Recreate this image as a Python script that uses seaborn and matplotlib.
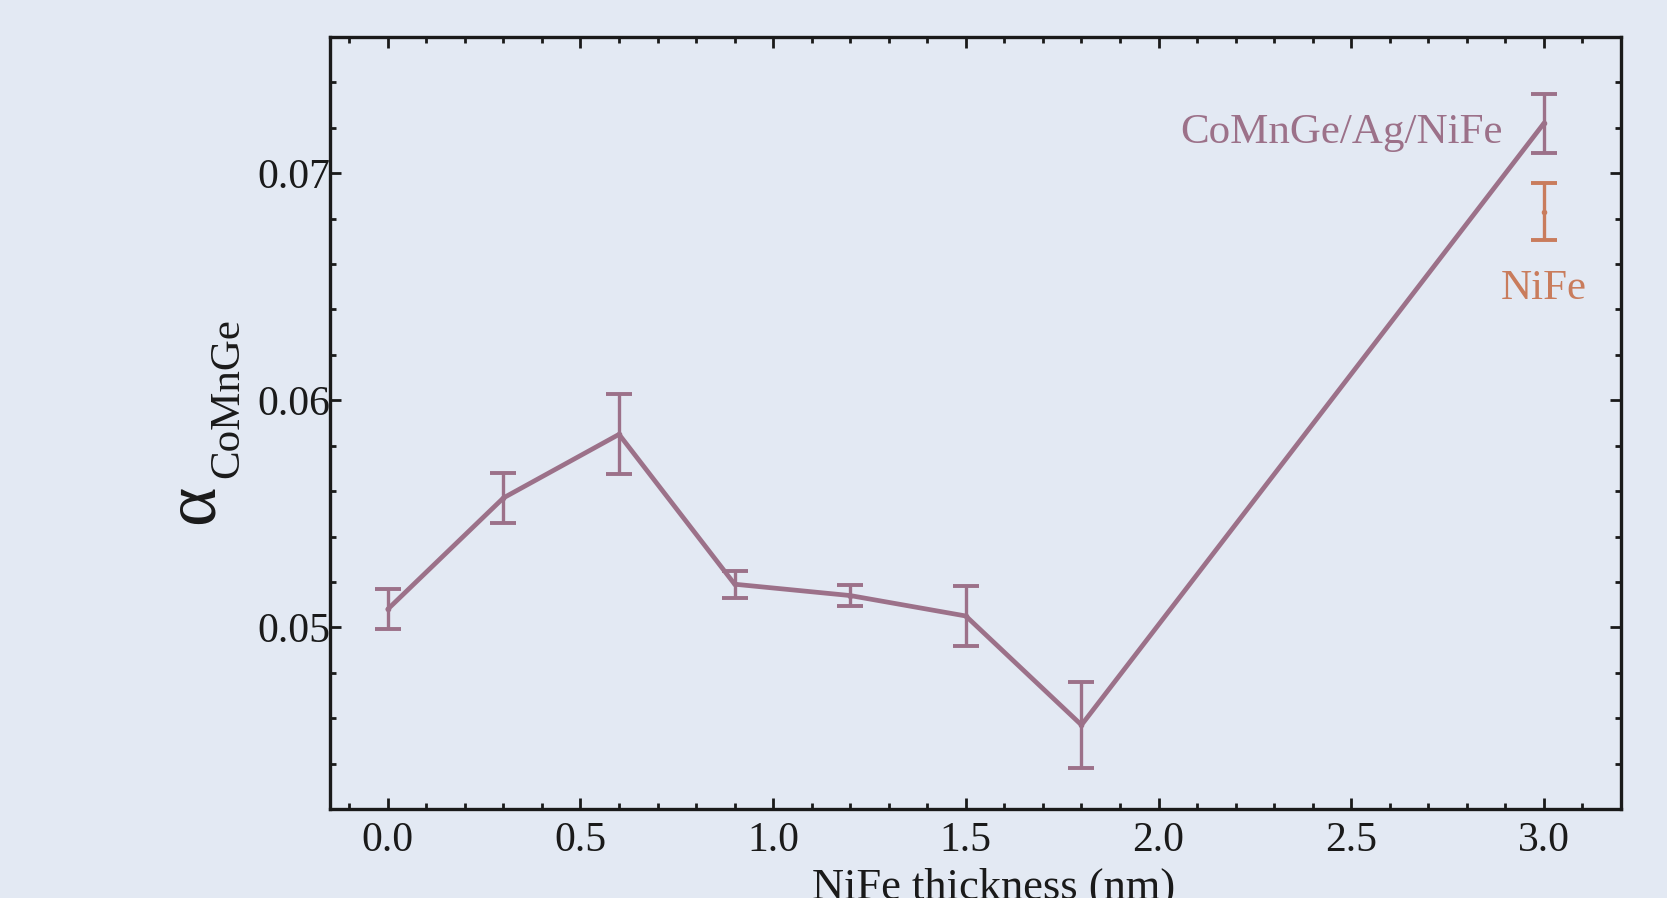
import matplotlib
matplotlib.use("Agg")
import matplotlib.pyplot as plt
import seaborn as sns
import numpy as np
import pandas as pd
from matplotlib.ticker import MultipleLocator

# data
thickness = [0.0, 0.3, 0.6, 0.9, 1.2, 1.5, 1.8, 3.0]
alpha_vals = [0.0508, 0.0557, 0.0585, 0.0519, 0.0514, 0.0505, 0.0457, 0.0722]
alpha_err = [0.00087, 0.0011, 0.00176, 0.0006, 0.00045, 0.0013, 0.0019, 0.0013]
nife_x = [3.0]
nife_val = [0.0683]
nife_err = [0.00125]

purple = "#9c7189"
orange = "#c97c5c"
bg = "#e3e9f3"
ink = "#1a1a1a"

sns.set_theme(style="ticks")
plt.rcParams["font.family"] = ["Liberation Serif", "DejaVu Serif"]
plt.rcParams["mathtext.fontset"] = "stix"

W, H = 1667, 898
fig = plt.figure(figsize=(W / 100, H / 100), dpi=100, facecolor=bg)
ax = fig.add_axes([330 / W, 1 - 809 / H, (1621 - 330) / W, (809 - 37) / H])
ax.set_facecolor(bg)

df = pd.DataFrame({"t": thickness, "a": alpha_vals})
sns.lineplot(data=df, x="t", y="a", color=purple, linewidth=3.4, ax=ax)
ax.errorbar(thickness, alpha_vals, yerr=alpha_err, fmt="none", ecolor=purple,
            elinewidth=2.4, capsize=9.5, capthick=2.8, zorder=3)
ax.plot(thickness, alpha_vals, "o", color=purple, markersize=3, zorder=4)
ax.errorbar(nife_x, nife_val, yerr=nife_err, fmt="o", color=orange, ecolor=orange,
            markersize=3, elinewidth=2.4, capsize=9.5, capthick=2.8, zorder=3)

ax.text(2.894, 0.0718, "CoMnGe/Ag/NiFe", color=purple, fontsize=31,
        ha="right", va="center")
ax.text(3.0, 0.0649, "NiFe", color=orange, fontsize=31, ha="center", va="center")

ax.set_xlim(-0.15, 3.2)
ax.set_ylim(0.042, 0.076)
ax.set_xticks([0.0, 0.5, 1.0, 1.5, 2.0, 2.5, 3.0])
ax.set_xticklabels(["0.0", "0.5", "1.0", "1.5", "2.0", "2.5", "3.0"])
ax.set_yticks([0.05, 0.06, 0.07])
ax.set_yticklabels(["0.05", "0.06", "0.07"])
ax.xaxis.set_minor_locator(MultipleLocator(0.1))
ax.yaxis.set_minor_locator(MultipleLocator(0.002))
ax.tick_params(which="both", direction="in", top=True, right=True,
               labelsize=30, colors=ink, width=2.0)
ax.tick_params(axis="x", which="major", pad=9)
ax.tick_params(axis="y", which="major", pad=0)
ax.tick_params(which="major", length=8)
ax.tick_params(which="minor", length=4.5)
for s in ax.spines.values():
    s.set_linewidth(2.4)
    s.set_color(ink)

ax.set_ylabel("")
ax.set_xlabel("NiFe thickness (nm)", fontsize=32, color=ink)
ax.xaxis.set_label_coords(0.514, -0.076)

# y label: large alpha with subscript
fig.text(213 / W, 1 - 524 / H, "α", fontsize=54, color=ink, rotation=90,
         rotation_mode="anchor", ha="left", va="baseline")
fig.text(238 / W, 1 - 478 / H, "CoMnGe", fontsize=31, color=ink, rotation=90,
         rotation_mode="anchor", ha="left", va="baseline")

fig.savefig("out.png", dpi=100, facecolor=bg)
